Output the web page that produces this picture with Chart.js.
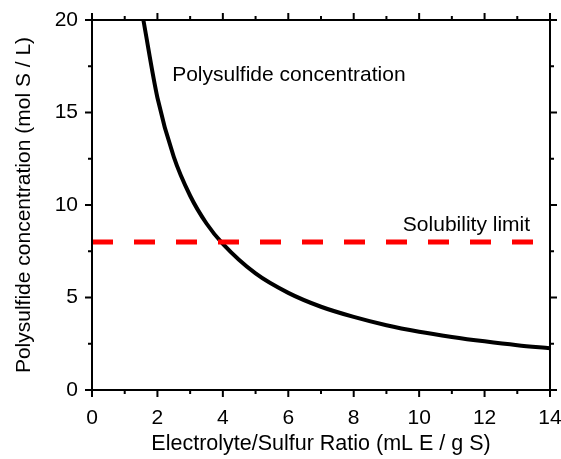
<!DOCTYPE html>
<html>
<head>
<meta charset="utf-8">
<script src="https://cdn.jsdelivr.net/npm/chart.js@4/dist/chart.umd.min.js"></script>
<style>
  html, body { margin: 0; padding: 0; background: #fff; }
  #wrap { width: 561px; height: 459px; }
</style>
</head>
<body>
<div id="wrap"><canvas id="grafico"></canvas></div>
<script>
// valores
var razaoES = [1.57, 2, 2.5, 3, 3.5, 4, 5, 6, 7, 8, 9, 10, 11, 12, 13, 14];
var concentracao = [20, 15.8, 12.6, 10.5, 9.0, 7.9, 6.3, 5.25, 4.5, 3.95, 3.5, 3.15, 2.87, 2.63, 2.42, 2.25];
var limiteX = [0, 14];
var limiteY = [8, 8];
var ticksX = [0, 2, 4, 6, 8, 10, 12, 14];
var ticksY = [0, 5, 10, 15, 20];
var fonte = 'Liberation Sans, Arial, sans-serif';

function pontos(xs, ys) {
    var out = [];
    for (let i = 0; i < xs.length; i++) out.push({ x: xs[i], y: ys[i] });
    return out;
}

// moldura, ticks (maiores e menores) e textos das curvas
var moldura = {
    id: 'moldura',
    afterDraw: function (chart) {
        var ctx = chart.ctx;
        var a = chart.chartArea;
        var sx = chart.scales.x, sy = chart.scales.y;
        ctx.save();
        ctx.strokeStyle = '#000';
        ctx.lineWidth = 2;
        ctx.strokeRect(a.left, a.top, a.right - a.left, a.bottom - a.top);

        for (let v = 0; v <= 14; v++) {
            let px = sx.getPixelForValue(v);
            let len = (v % 2 == 0) ? 7 : 4;
            ctx.beginPath();
            ctx.moveTo(px, a.bottom); ctx.lineTo(px, a.bottom + len);
            ctx.moveTo(px, a.top); ctx.lineTo(px, a.top - len);
            ctx.stroke();
        }
        for (let v = 0; v <= 20; v += 2.5) {
            let py = sy.getPixelForValue(v);
            let len = (v % 5 == 0) ? 7 : 4;
            ctx.beginPath();
            ctx.moveTo(a.left, py); ctx.lineTo(a.left - len, py);
            ctx.moveTo(a.right, py); ctx.lineTo(a.right + len, py);
            ctx.stroke();
        }

        ctx.fillStyle = '#000';
        ctx.font = '21px ' + fonte;
        ctx.textBaseline = 'middle';
        ctx.textAlign = 'left';
        ctx.fillText('Polysulfide concentration', sx.getPixelForValue(2.45), sy.getPixelForValue(17));
        ctx.textAlign = 'right';
        ctx.fillText('Solubility limit', sx.getPixelForValue(13.39), sy.getPixelForValue(8.9));
        ctx.restore();
    }
};

new Chart(document.getElementById('grafico'), {
    type: 'scatter',
    data: {
        datasets: [{
            label: 'Solubility limit',
            data: pontos(limiteX, limiteY),
            showLine: true,
            borderColor: '#ff0000',
            borderWidth: 5,
            borderDash: [21, 21],
            pointRadius: 0
        }, {
            label: 'Polysulfide concentration',
            data: pontos(razaoES, concentracao),
            showLine: true,
            borderColor: '#000000',
            borderWidth: 4,
            cubicInterpolationMode: 'monotone',
            pointRadius: 0
        }]
    },
    options: {
        responsive: true,
        maintainAspectRatio: false,
        animation: false,
        layout: { padding: { left: 0, right: 11, top: 20, bottom: 0 } },
        plugins: {
            legend: { display: false },
            tooltip: { enabled: false }
        },
        scales: {
            x: {
                type: 'linear',
                min: 0,
                max: 14,
                afterFit: function (s) { s.height = 69; s.paddingLeft = 0; s.paddingRight = 0; },
                afterBuildTicks: function (s) { s.ticks = ticksX.map(function (v) { return { value: v }; }); },
                grid: { display: false, drawTicks: false },
                border: { display: false },
                ticks: { color: '#000', font: { family: fonte, size: 21 }, padding: 16, maxRotation: 0 },
                title: { display: true, text: 'Electrolyte/Sulfur Ratio (mL E / g S)', color: '#000', font: { family: fonte, size: 21.5 }, padding: { top: 0, bottom: 2 } }
            },
            y: {
                type: 'linear',
                min: 0,
                max: 20,
                afterFit: function (s) { s.width = 92; s.paddingTop = 0; s.paddingBottom = 0; },
                afterBuildTicks: function (s) { s.ticks = ticksY.map(function (v) { return { value: v }; }); },
                grid: { display: false, drawTicks: false },
                border: { display: false },
                ticks: { color: '#000', font: { family: fonte, size: 21 }, padding: 14 },
                title: { display: true, text: 'Polysulfide concentration (mol S / L)', color: '#000', font: { family: fonte, size: 21 }, padding: { top: 12, bottom: 0 } }
            }
        }
    },
    plugins: [moldura]
});
</script>
</body>
</html>
